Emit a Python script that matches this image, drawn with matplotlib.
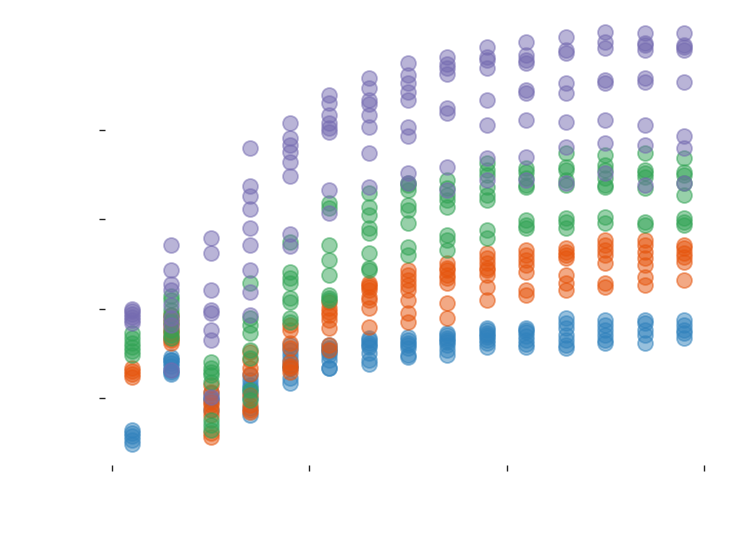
import matplotlib
matplotlib.use("Agg")
import matplotlib.pyplot as plt
import numpy as np

x_positions = [0.5, 1.5, 2.5, 3.5, 4.5, 5.5, 6.5, 7.5, 8.5, 9.5, 10.5, 11.5, 12.5, 13.5, 14.5]
x_ticks = [0, 5, 10, 15]
y_ticks = [0, 89, 179, 268]

purple_vals = [
    [89, 87, 84, 81, 78, 75],
    [153, 128, 114, 108, 93, 80, 73, 28],
    [160, 145, 108, 88, 85, 68, 58, 1],
    [250, 212, 202, 189, 170, 153, 128, 106, 83],
    [275, 260, 253, 246, 236, 222, 164, 152],
    [303, 295, 283, 275, 270, 266, 208, 185],
    [320, 310, 298, 294, 283, 271, 245, 211],
    [335, 323, 315, 306, 298, 271, 262, 225, 215],
    [341, 334, 330, 324, 290, 285, 231, 208],
    [351, 341, 338, 330, 298, 273, 240, 218],
    [356, 343, 338, 335, 308, 305, 278, 241, 218],
    [361, 348, 345, 315, 305, 276, 251, 215],
    [366, 356, 350, 318, 315, 278, 255, 225],
    [365, 355, 353, 348, 320, 316, 273, 253, 213],
    [365, 353, 351, 348, 316, 262, 250, 215],
]
green_vals = [
    [65, 60, 55, 51, 47, 43],
    [102, 98, 88, 83, 76, 68, 63, 60],
    [36, 30, 26, 23, 16, -22, -27, -32],
    [115, 80, 73, 65, 48, 40, 8, -2],
    [156, 126, 120, 115, 100, 96, 80, 76],
    [195, 190, 153, 138, 123, 103, 100, 98],
    [205, 191, 183, 170, 165, 145, 130, 128],
    [215, 213, 208, 193, 188, 175, 151, 143],
    [218, 210, 203, 198, 191, 163, 158, 148],
    [235, 228, 223, 211, 203, 198, 168, 160],
    [230, 226, 220, 213, 211, 178, 173, 170],
    [245, 231, 228, 218, 213, 180, 176, 170],
    [243, 233, 228, 220, 213, 211, 181, 175],
    [245, 228, 225, 221, 210, 176, 173],
    [240, 226, 223, 215, 203, 180, 176, 173],
]
orange_vals = [
    [30, 27, 24, 21],
    [83, 78, 73, 68, 65, 60, 58, 55],
    [13, 6, -4, -7, -12, -17, -35, -39],
    [46, 38, 30, 24, 3, -7, -12, -14],
    [73, 68, 55, 50, 36, 32, 30, 26],
    [96, 90, 86, 83, 78, 70, 53, 48],
    [115, 113, 111, 108, 101, 98, 90, 71],
    [128, 123, 118, 113, 108, 98, 85, 76],
    [135, 130, 128, 123, 120, 115, 95, 80],
    [145, 140, 135, 130, 128, 123, 111, 98],
    [148, 143, 138, 133, 126, 108, 103],
    [150, 146, 143, 140, 123, 115, 108],
    [158, 153, 148, 143, 135, 115, 111],
    [158, 153, 146, 140, 133, 121, 113],
    [153, 150, 145, 141, 136, 118],
]
blue_vals = [
    [-32, -35, -38, -42, -46],
    [41, 38, 38, 35, 32, 28, 26, 24],
    [5, 0, -2, -12],
    [23, 18, 13, 10, 6, 0, -10, -17],
    [53, 48, 43, 38, 33, 30, 20, 15],
    [53, 50, 48, 46, 43, 38, 30, 30],
    [60, 58, 55, 53, 51, 45, 38, 34],
    [61, 58, 55, 53, 50, 43, 41],
    [65, 63, 60, 58, 56, 53, 48, 43],
    [70, 68, 65, 63, 61, 58, 55, 51],
    [70, 68, 66, 62, 58, 54, 51],
    [80, 75, 70, 63, 58, 53, 50],
    [78, 73, 68, 63, 58, 55],
    [78, 75, 68, 63, 55],
    [78, 73, 68, 65, 60],
]

series = [
    (blue_vals, "#3182bd"),
    (orange_vals, "#e6550d"),
    (green_vals, "#31a354"),
    (purple_vals, "#756bb1"),
]

fig = plt.figure(figsize=(7.47, 5.52), dpi=100)
ax = fig.add_axes([105 / 747, 1 - 465 / 552, (711 - 105) / 747, (465 - 12) / 552])

for vals, color in series:
    xs = np.concatenate([[x] * len(v) for x, v in zip(x_positions, vals)])
    ys = np.concatenate([v for v in vals])
    ax.scatter(xs, ys, s=115, facecolor=color, edgecolor=color,
               linewidth=1.3, alpha=0.5, zorder=2)

ax.set_xlim(-0.18, 15.18)
ax.set_ylim(-67, 386)
ax.set_xticks(x_ticks)
ax.set_yticks(y_ticks)
ax.set_xticklabels([])
ax.set_yticklabels([])
ax.tick_params(direction="out", length=4.5, width=1.0, color="#222222")
for sp in ax.spines.values():
    sp.set_visible(False)

fig.savefig("out.png", dpi=100)
